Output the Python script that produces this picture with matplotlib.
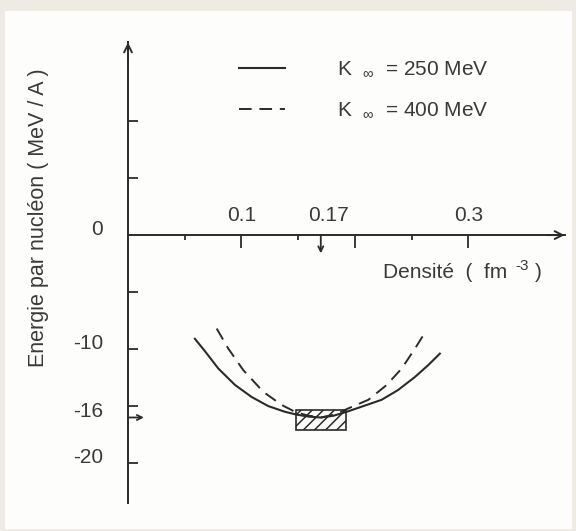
import matplotlib
matplotlib.use('Agg')
import matplotlib.pyplot as plt
from matplotlib.patches import Rectangle

plt.rcParams['font.family'] = ['Liberation Sans', 'DejaVu Sans']
plt.rcParams['mathtext.fontset'] = 'custom'
plt.rcParams['mathtext.rm'] = 'Liberation Sans'
plt.rcParams['mathtext.it'] = 'Liberation Sans'
plt.rcParams['hatch.linewidth'] = 1.1

# densite (fm^-3) / energie par nucleon (MeV/A)
rho_250 = [0.059, 0.068, 0.0796, 0.0944, 0.109, 0.1237, 0.1384, 0.1488, 0.159,
           0.170, 0.181, 0.1929, 0.209, 0.2236, 0.238, 0.253, 0.2648, 0.275]
e_250 = [-9.1, -10.2, -11.7, -13.15, -14.2, -15.0, -15.5, -15.75, -15.92,
         -16.0, -15.85, -15.5, -14.95, -14.45, -13.6, -12.45, -11.4, -10.4]
rho_400 = [0.0782, 0.0884, 0.1017, 0.1193, 0.1355, 0.1473, 0.158, 0.170,
           0.182, 0.1943, 0.2119, 0.2281, 0.2414, 0.2531, 0.2619]
e_400 = [-8.2, -9.95, -11.85, -13.75, -14.9, -15.5, -15.82, -16.0,
         -15.75, -15.2, -14.45, -13.15, -11.7, -9.95, -8.55]
labels = ['K  $_{\\infty}$  = 250 MeV', 'K  $_{\\infty}$  = 400 MeV']

# zone de saturation
box_rho = [0.148, 0.192]
box_e = [-17.1, -15.3]
rho0 = 0.17
e0 = -16

xtick_major = [0.1, 0.2, 0.3]
xtick_minor = [0.05, 0.15, 0.25]
xlabel_pos = [0.1, 0.1765, 0.3]
xlabel_txt = ['0.1', '0.17', '0.3']
ytick_pos = [10, 5, -5, -10, -15, -20]
ylabel_pos = [0, -10, -16, -20]
ylabel_txt = ['0', '-10', '-16', '-20']

ink = '#2b2b2b'
txt = '#3a3a3a'
fs = 15

fig = plt.figure(figsize=(5.76, 5.31), dpi=100, facecolor='#eeebe4')
fig.patches.append(Rectangle((5 / 576, 2 / 531), 567 / 576, 518 / 531,
                             transform=fig.transFigure, facecolor='#fdfdfb',
                             edgecolor='none', zorder=-1))
ax = fig.add_axes([128 / 576, 28 / 531, 436.6 / 576, 460.6 / 531])
ax.patch.set_alpha(0)
ax.set_xlim(0, 0.385)
ax.set_ylim(-23.5, 16.9)

ax.spines['top'].set_visible(False)
ax.spines['right'].set_visible(False)
ax.spines['bottom'].set_position(('data', 0))
for s in ['left', 'bottom']:
    ax.spines[s].set_color(ink)
    ax.spines[s].set_linewidth(1.4)

ax.set_xticks(xtick_major)
ax.set_xticks(xtick_minor, minor=True)
ax.tick_params(axis='x', which='major', direction='out', length=9.4, width=1.3,
               color=ink, labelbottom=False)
ax.tick_params(axis='x', which='minor', direction='out', length=3.6, width=1.3,
               color=ink)
ax.set_yticks(ytick_pos)
ax.tick_params(axis='y', direction='in', length=7.2, width=1.3, color=ink,
               labelleft=False)

# fleches des axes
ax.annotate('', xy=(1.0, 0), xytext=(0.96, 0), xycoords=ax.get_yaxis_transform(),
            arrowprops=dict(arrowstyle='->', lw=1.4, color=ink,
                            shrinkA=0, shrinkB=0, mutation_scale=14))
ax.annotate('', xy=(0, 1.0), xytext=(0, 0.96), xycoords='axes fraction',
            arrowprops=dict(arrowstyle='->', lw=1.4, color=ink,
                            shrinkA=0, shrinkB=0, mutation_scale=14))
# reperes rho0 et e0
ax.annotate('', xy=(rho0, -1.6), xytext=(rho0, 0),
            arrowprops=dict(arrowstyle='->', lw=1.3, color=ink,
                            shrinkA=0, shrinkB=0, mutation_scale=9))
ax.annotate('', xy=(0.014, e0), xytext=(0, e0),
            arrowprops=dict(arrowstyle='->', lw=1.3, color=ink,
                            shrinkA=0, shrinkB=0, mutation_scale=9))

ax.plot(rho_250, e_250, color=ink, lw=1.5, label=labels[0])
ax.plot(rho_400, e_400, color=ink, lw=1.4, dashes=(6.5, 4), label=labels[1])
ax.add_patch(Rectangle((box_rho[0], box_e[0]), box_rho[1] - box_rho[0],
                       box_e[1] - box_e[0], fill=False, hatch='///',
                       edgecolor=ink, lw=1.2))

for x, t in zip(xlabel_pos, xlabel_txt):
    ax.text(x, 1.2, t, ha='center', va='baseline', fontsize=fs, color=txt)
for y, t in zip(ylabel_pos, ylabel_txt):
    ax.text(-0.057, y, t, ha='right', va='baseline', fontsize=fs, color=txt,
            transform=ax.get_yaxis_transform())

ax.text(0.225, -3.8, 'Densité  (  fm', fontsize=fs, color=txt,
        ha='left', va='baseline')
ax.text(0.342, -3.1, '-3', fontsize=11, color=txt, ha='left', va='baseline')
ax.text(0.359, -3.8, ')', fontsize=fs, color=txt, ha='left', va='baseline')
ax.text(-0.206, 0.62, 'Energie par nucléon ( MeV / A )', rotation=90,
        fontsize=15.5, color=txt, ha='center', va='center',
        transform=ax.transAxes)

leg = ax.legend(loc='upper left', bbox_to_anchor=(0.255, 0.962), frameon=False,
                fontsize=fs, handlelength=2.2, handletextpad=2.5,
                labelspacing=1.05, borderpad=0, borderaxespad=0,
                labelcolor=txt)

fig.savefig('out.png', dpi=100, facecolor=fig.get_facecolor())
